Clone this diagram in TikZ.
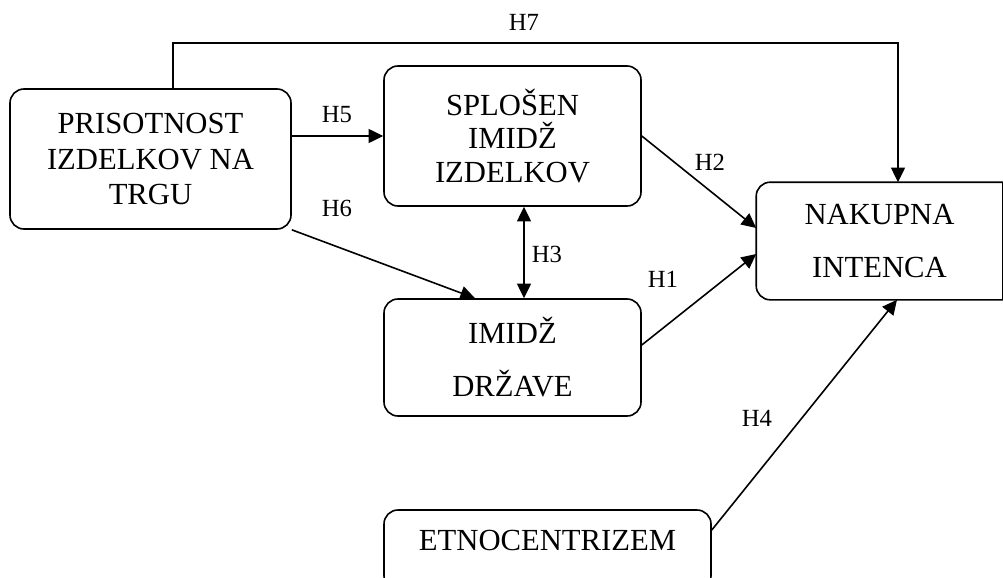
\documentclass[tikz,border=0pt]{standalone}
\usepackage{fontspec}
\setmainfont{Liberation Serif}
\usetikzlibrary{arrows.meta}
\begin{document}
\begin{tikzpicture}[x=0.75pt,y=-0.75pt,
  box/.style={draw, line width=1.2pt, rounded corners=10.5pt, align=center, inner sep=0pt},
  tight/.style={font=\fontsize{23}{26.8}\selectfont},
  snug/.style={font=\fontsize{23}{24.8}\selectfont},
  loose/.style={font=\fontsize{23}{39.75}\selectfont},
  lbl/.style={font=\fontsize{18.5}{20}\selectfont, inner sep=0pt},
  tip/.tip={Triangle[length=11pt,width=10.5pt]},
  arr/.style={line width=1.2pt, -tip},
  darr/.style={line width=1.2pt, tip-tip}]

\useasboundingbox (0,0) rectangle (1003,578);
\clip (0,0) rectangle (1003,578);

% constructs
\node[box, tight, minimum width=210.75pt, minimum height=105pt] (A) at (150.5,159)
  {PRISOTNOST\\IZDELKOV NA\\TRGU};
\node[box, snug, minimum width=192.75pt, minimum height=105pt] (B) at (512.5,136)
  {SPLOŠEN\\IMIDŽ\\IZDELKOV};
\node[box, loose, minimum width=192.75pt, minimum height=87.75pt] (C) at (512.5,357.5)
  {IMIDŽ\\DRŽAVE};
\node[box, loose, draw=none, minimum width=183.75pt, minimum height=87pt] (D) at (879.5,241)
  {NAKUPNA\\INTENCA};
\node[box, tight, minimum width=245.25pt, minimum height=60pt, text depth=15pt] (E) at (547.5,550)
  {ETNOCENTRIZEM};

% outcome box: rounded on the left, square on the right
\draw[line width=1.2pt, rounded corners=10.5pt] (D.north east) -- (D.north west) -- (D.south west) -- (D.south east);
\draw[line width=1.2pt] (D.south east) -- (D.north east);

% hypotheses
\coordinate (p7) at (173,43);
\coordinate (q7) at (898,43);
\draw[arr] (A.north -| p7) -- (p7) -- (q7) -- (D.north -| q7);

\coordinate (y5) at (0,136);
\draw[arr] (A.east |- y5) -- (B.west |- y5);

\coordinate (x6) at (475,0);
\draw[arr] (A.south east) -- (C.north -| x6);

\coordinate (x3) at (524,0);
\draw[darr] (B.south -| x3) -- (C.north -| x3);

\coordinate (y2) at (0,228);
\draw[arr] (B.east) -- (D.west |- y2);

\coordinate (s1) at (0,345);
\coordinate (e1) at (0,254);
\draw[arr] (C.east |- s1) -- (D.west |- e1);

\coordinate (s4) at (0,530);
\coordinate (e4) at (897,0);
\draw[arr] (E.east |- s4) -- (D.south -| e4);

% labels
\node[lbl] (l7) at (524,22) {H7};
\node[lbl] (l5) at (337,114.5) {H5};
\node[lbl] (l6) at (337,208) {H6};
\node[lbl] (l3) at (547,254) {H3};
\node[lbl] (l2) at (710,162) {H2};
\node[lbl] (l1) at (663,279) {H1};
\node[lbl] (l4) at (757,418) {H4};
\end{tikzpicture}
\end{document}
